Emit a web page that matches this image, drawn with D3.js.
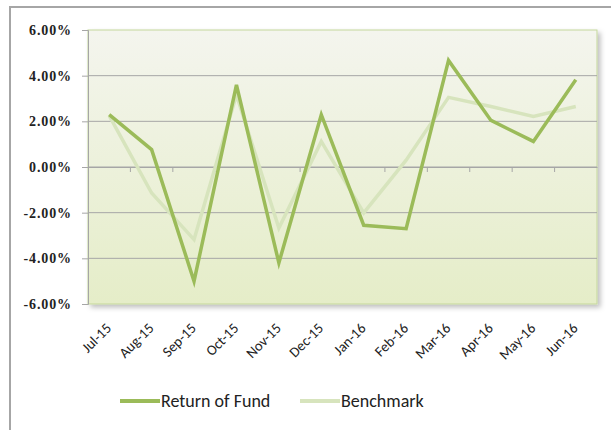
<!DOCTYPE html>
<html><head><meta charset="utf-8">
<script src="https://cdn.jsdelivr.net/npm/d3@7"></script>
<style>body{margin:0;background:#fff}svg{display:block}</style>
</head><body>
<svg id="c" width="611" height="430"></svg>
<script>
const months = ["Jul-15","Aug-15","Sep-15","Oct-15","Nov-15","Dec-15","Jan-16","Feb-16","Mar-16","Apr-16","May-16","Jun-16"];
const fund = [2.29, 0.76, -5.0, 3.6, -4.2, 2.29, -2.55, -2.7, 4.67, 2.04, 1.12, 3.82];
const benchmark = [2.25, -1.14, -3.18, 3.16, -2.67, 1.12, -2.01, 0.3, 3.05, 2.65, 2.21, 2.65];
const yTicks = [-6, -4, -2, 0, 2, 4, 6];
const seriesNames = ["Return of Fund", "Benchmark"];

const svg = d3.select("#c");
const m = {l: 88, t: 30, r: 597, b: 304};
const defs = svg.append("defs");
const g = defs.append("linearGradient").attr("id","bg").attr("x1",0).attr("y1",0).attr("x2",0).attr("y2",1);
g.append("stop").attr("offset","0%").attr("stop-color","#f4f5ee");
g.append("stop").attr("offset","100%").attr("stop-color","#e5edc8");
const f = defs.append("filter").attr("id","sh").attr("x","-5%").attr("y","-5%").attr("width","115%").attr("height","115%");
f.append("feDropShadow").attr("dx",3).attr("dy",3).attr("stdDeviation",2.5).attr("flood-color","#000").attr("flood-opacity",0.25);

// outer frame (cut off on right and bottom)
svg.append("path").attr("d","M10,440 V7 H620").attr("fill","none").attr("stroke","#a6a6a6").attr("stroke-width",2);

const x = d3.scaleBand().domain(months).range([m.l, m.r]);
const y = d3.scaleLinear().domain([-6, 6]).range([m.b, m.t]);

svg.append("rect").attr("x",m.l).attr("y",m.t).attr("width",m.r-m.l).attr("height",m.b-m.t)
  .attr("fill","url(#bg)").attr("stroke","#c4d79b").attr("stroke-width",1).attr("filter","url(#sh)");

// gridlines
svg.append("g").selectAll("line").data(yTicks.filter(d=>d>-6 && d<6)).join("line")
  .attr("x1",m.l).attr("x2",m.r).attr("y1",d=>y(d)).attr("y2",d=>y(d))
  .attr("stroke","#a6a6a6").attr("stroke-width",1);

// y axis
const ya = svg.append("g").attr("transform",`translate(${m.l},0)`)
  .call(d3.axisLeft(y).tickValues(yTicks).tickSize(6).tickPadding(10).tickFormat(d=>d.toFixed(2)+"%"));
ya.attr("font-family",null).attr("font-size",null);
ya.select(".domain").attr("stroke","#a6a6a6");
ya.selectAll(".tick line").attr("stroke","#a6a6a6");
ya.selectAll("text").style("font-family","'Liberation Serif', serif").style("font-weight","bold")
  .style("font-size","14px").style("letter-spacing","0.9px").attr("fill","#222");

// x axis at zero
const xa = svg.append("g").attr("transform",`translate(0,${y(0)})`)
  .call(d3.axisBottom(x).tickSize(0).tickFormat(""));
xa.select(".domain").attr("stroke","#a6a6a6");
svg.append("g").selectAll("line").data(months.slice(1)).join("line")
  .attr("x1",d=>x(d)).attr("x2",d=>x(d)).attr("y1",y(0)).attr("y2",y(0)+5).attr("stroke","#a6a6a6");

// x labels at bottom
svg.append("g").selectAll("text").data(months).join("text")
  .attr("transform",d=>`translate(${x(d)+x.bandwidth()/2+3},${m.b+25}) rotate(-45)`)
  .attr("text-anchor","end")
  .style("font-family","Carlito, Lato, sans-serif").style("font-size","14.5px").attr("fill","#222")
  .text(d=>d);

// lines
const line = d3.line().x((d,i)=>x(months[i])+x.bandwidth()/2).y(d=>y(d));
svg.append("path").datum(benchmark).attr("d",line).attr("fill","none").attr("stroke","#d7e4bd")
  .attr("stroke-width",3.5).attr("stroke-linejoin","miter");
svg.append("path").datum(fund).attr("d",line).attr("fill","none").attr("stroke","#9bbb59")
  .attr("stroke-width",3.5).attr("stroke-linejoin","miter");

// legend
const colors = ["#9bbb59","#d7e4bd"];
const lx = [120, 300];
const lg = svg.append("g");
seriesNames.forEach((n,i)=>{
  lg.append("line").attr("x1",lx[i]).attr("x2",lx[i]+40).attr("y1",401).attr("y2",401)
    .attr("stroke",colors[i]).attr("stroke-width",4);
  lg.append("text").attr("x",lx[i]+41).attr("y",401).attr("dy","0.35em")
    .style("font-family","Carlito, Lato, sans-serif").style("font-size","18px").attr("fill","#222")
    .text(n);
});
</script>
</body></html>
